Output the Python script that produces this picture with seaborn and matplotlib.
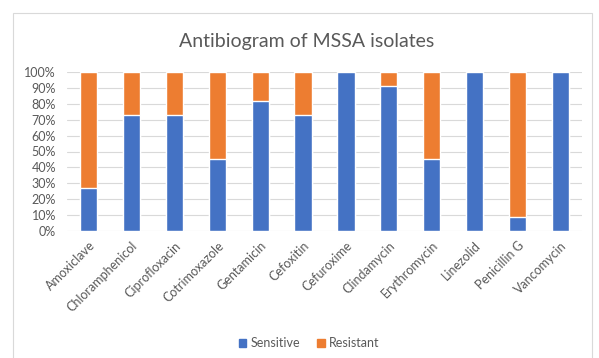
import matplotlib
matplotlib.use("Agg")
import matplotlib.pyplot as plt
import matplotlib.patches as mpatches
from matplotlib.ticker import PercentFormatter
import pandas as pd
import seaborn as sns

antibiotics = ["Amoxiclave", "Chloramphenicol", "Ciprofloxacin", "Cotrimoxazole",
               "Gentamicin", "Cefoxitin", "Cefuroxime", "Clindamycin",
               "Erythromycin", "Linezolid", "Penicillin G", "Vancomycin"]
sensitive = [27.3, 72.7, 72.7, 45.5, 81.8, 72.7, 100.0, 90.9, 45.5, 100.0, 9.1, 100.0]
resistant = [72.7, 27.3, 27.3, 54.5, 18.2, 27.3, 0.0, 9.1, 54.5, 0.0, 90.9, 0.0]

blue = "#4472C4"
orange = "#ED7D31"
text_gray = "#595959"
grid_gray = "#D9D9D9"

df = pd.DataFrame({"antibiotic": antibiotics,
                   "Sensitive": sensitive,
                   "Resistant": resistant})
df["total"] = df["Sensitive"] + df["Resistant"]

sns.set_theme(style="white")
plt.rcParams["font.family"] = ["Lato", "DejaVu Sans"]

fig = plt.figure(figsize=(5.99, 3.58), dpi=100)
ax = fig.add_axes([67 / 599, 1 - 231 / 358, (582 - 67) / 599, (231 - 72) / 358])

# stacked bars: full height in orange, sensitive share drawn over it in blue
sns.barplot(data=df, x="antibiotic", y="total", color=orange, width=0.4,
            saturation=1, ax=ax, zorder=2)
sns.barplot(data=df, x="antibiotic", y="Sensitive", color=blue, width=0.4,
            saturation=1, ax=ax, zorder=3)

ax.set_ylim(0, 100)
ax.set_yticks(range(0, 101, 10))
ax.yaxis.set_major_formatter(PercentFormatter(decimals=0))
ax.grid(axis="y", color=grid_gray, linewidth=0.8, zorder=0)
ax.set_axisbelow(True)
for s in ax.spines.values():
    s.set_visible(False)
ax.set_xlabel("")
ax.set_ylabel("")
ax.tick_params(axis="both", length=0, colors=text_gray, labelsize=9)
ax.tick_params(axis="y", pad=8)
ax.tick_params(axis="x", pad=6)
plt.setp(ax.get_xticklabels(), rotation=45, ha="right", rotation_mode="anchor")

fig.text(307 / 599, 1 - 42 / 358, "Antibiogram of MSSA isolates",
         ha="center", va="center", fontsize=14, color=text_gray)

handles = [mpatches.Patch(color=blue, label="Sensitive"),
           mpatches.Patch(color=orange, label="Resistant")]
fig.legend(handles=handles, loc="center", bbox_to_anchor=(309 / 599, 1 - 343 / 358),
           ncol=2, frameon=False, fontsize=9, handlelength=0.6, handleheight=0.6,
           handletextpad=0.3, columnspacing=1.4, labelcolor=text_gray)

# chart area border
fig.patches.append(mpatches.Rectangle((13 / 599, -0.05), (592 - 13) / 599, 1.05 - 13 / 358,
                                      transform=fig.transFigure, fill=False,
                                      edgecolor=grid_gray, linewidth=0.8))

fig.savefig("out.png", dpi=100, facecolor="white")
